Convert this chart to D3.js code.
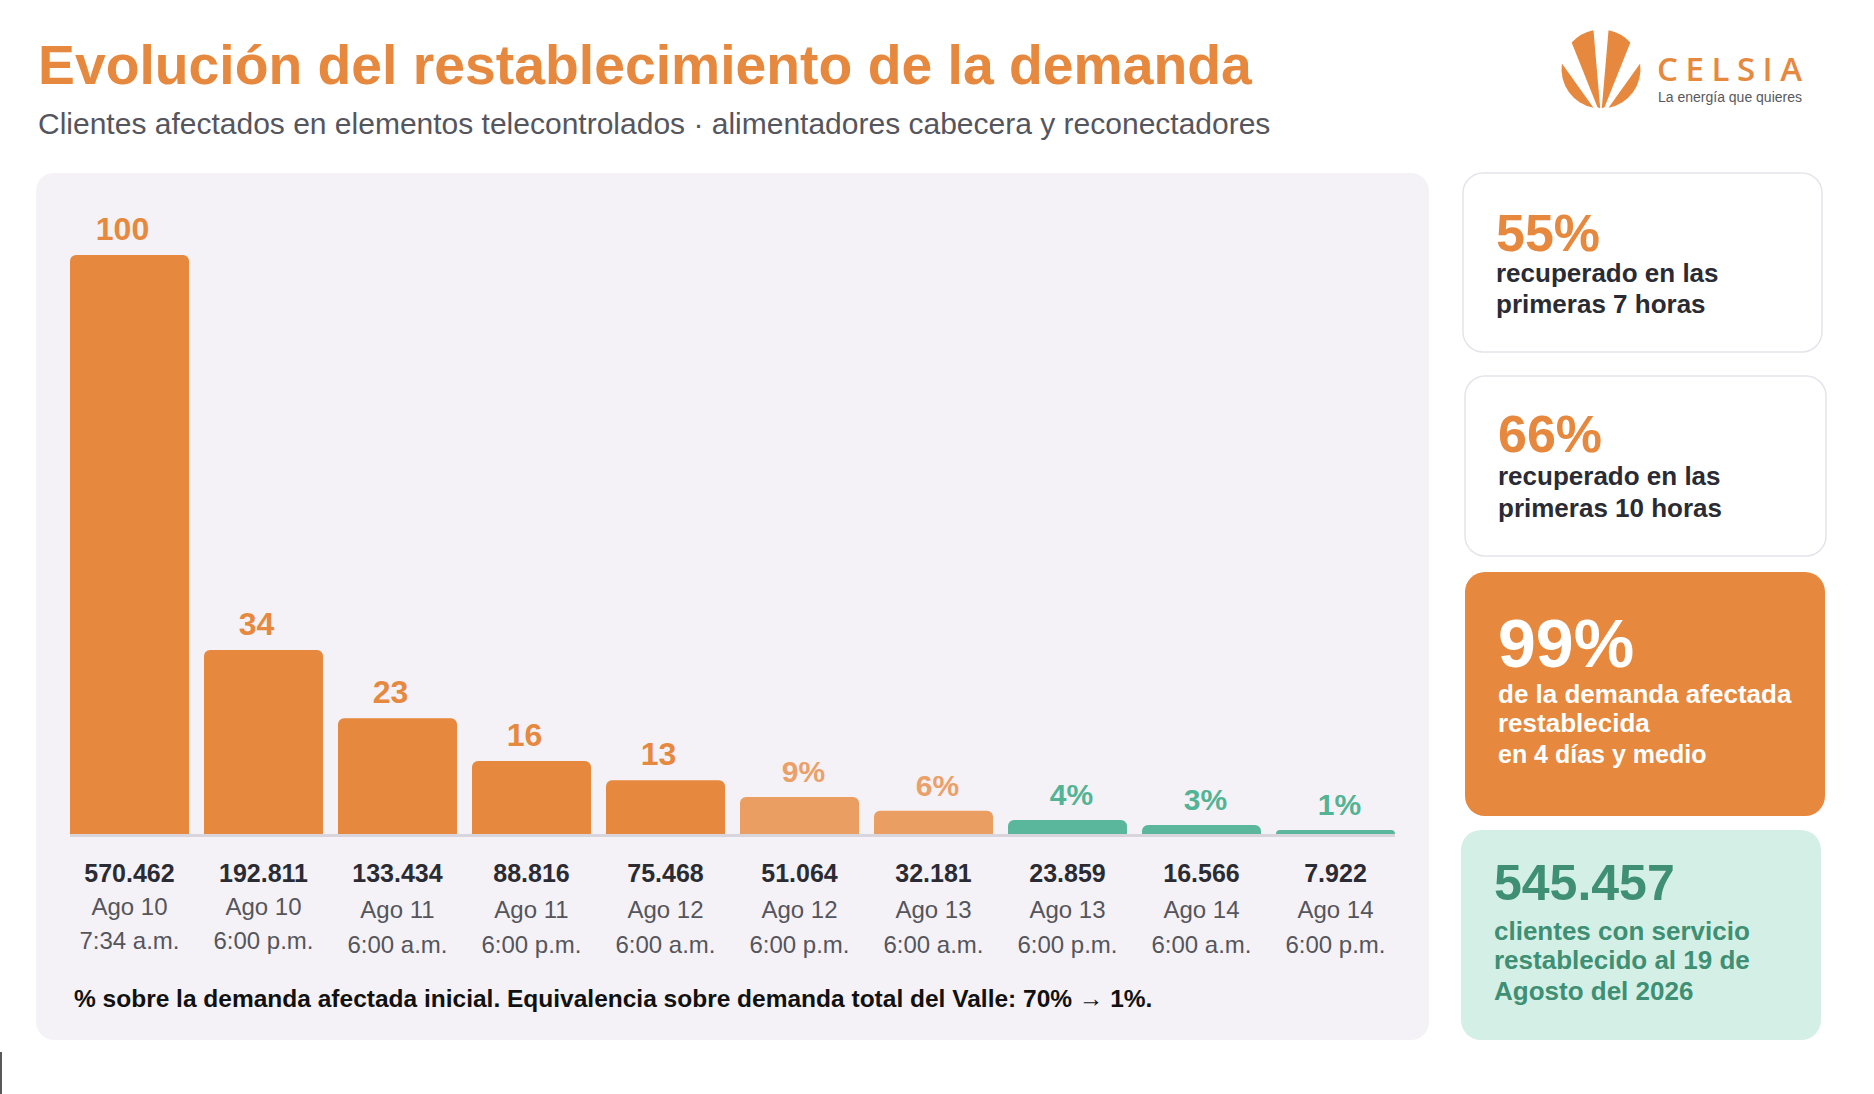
<!DOCTYPE html>
<html lang="es">
<head>
<meta charset="utf-8">
<title>Evolución del restablecimiento de la demanda</title>
<script src="https://cdn.jsdelivr.net/npm/d3@7"></script>
<style>
  html, body { margin: 0; padding: 0; background: #fff; }
  svg { display: block; font-family: "Liberation Sans", Arial, Helvetica, sans-serif; }
</style>
</head>
<body>
<svg id="chart" width="1874" height="1094"></svg>
<script>
// clientes afectados por corte horario
var clients = [570462, 192811, 133434, 88816, 75468, 51064, 32181, 23859, 16566, 7922];
var dayLabels = ["Ago 10", "Ago 10", "Ago 11", "Ago 11", "Ago 12", "Ago 12", "Ago 13", "Ago 13", "Ago 14", "Ago 14"];
var hourLabels = ["7:34 a.m.", "6:00 p.m.", "6:00 a.m.", "6:00 p.m.", "6:00 a.m.", "6:00 p.m.", "6:00 a.m.", "6:00 p.m.", "6:00 a.m.", "6:00 p.m."];
// % sobre la demanda afectada inicial (etiqueta sobre cada barra)
var pctAffected = [100, 34, 23, 16, 13, 9, 6, 4, 3, 1];
// altura de cada barra, en % de la primera
var barLevel = [100, 31.8, 20.0, 12.6, 9.3, 6.4, 4.0, 2.4, 1.55, 0.7];

var cardValues = ["55%", "66%", "99%", "545.457"];
var cardTexts = [
    ["recuperado en las", "primeras 7 horas"],
    ["recuperado en las", "primeras 10 horas"],
    ["de la demanda afectada", "restablecida", "en 4 días y medio"],
    ["clientes con servicio", "restablecido al 19 de", "Agosto del 2026"]
];

var ORANGE = "#e6883e", ORANGE_SOFT = "#eb9e62", TEAL = "#5bb79c";
var INK = "#2b2b33";

var fmt = d3.formatLocale({ decimal: ",", thousands: ".", grouping: [3], currency: ["$", ""] }).format(",d");

var svg = d3.select("#chart");

// encabezado
svg.append("text")
    .attr("x", 38).attr("y", 84)
    .attr("font-size", 55.3).attr("font-weight", "bold")
    .attr("fill", ORANGE)
    .text("Evolución del restablecimiento de la demanda");

svg.append("text")
    .attr("x", 38).attr("y", 134)
    .attr("font-size", 30)
    .attr("fill", "#55555e")
    .text("Clientes afectados en elementos telecontrolados · alimentadores cabecera y reconectadores");

// logo
var logo = svg.append("g").attr("transform", "translate(1601,69)");
var R = 39.5;
function pt(deg) {
    var a = deg * Math.PI / 180;
    return [R * Math.cos(a), R * Math.sin(a)];
}
function blade(a0, a1, b0, b1) {
    var p = pt(a0), q = pt(a1);
    return "M" + b0 + "L" + p + "A" + R + "," + R + " 0 0 1 " + q + "L" + b1 + "Z";
}
function segment(a0, a1) {
    var p = pt(a0), q = pt(a1);
    var sweep = a1 > a0 ? 1 : 0;
    return "M" + p + "A" + R + "," + R + " 0 0 " + sweep + " " + q + "Z";
}
logo.selectAll("path")
    .data([
        blade(222, 259, [-3.5, 38.2], [-0.8, 39.3]),
        blade(281, 318, [0.8, 39.3], [3.5, 38.2]),
        segment(188, 101),
        segment(-8, 79)
    ])
    .join("path")
    .attr("d", d => d)
    .attr("fill", ORANGE);

svg.append("text")
    .attr("x", 1657).attr("y", 81)
    .attr("font-family", "'Open Sans', sans-serif")
    .attr("font-size", 33).attr("font-weight", 600)
    .attr("fill", ORANGE)
    .attr("textLength", 145).attr("lengthAdjust", "spacing")
    .text("CELSIA");

svg.append("text")
    .attr("x", 1658).attr("y", 102)
    .attr("font-size", 14)
    .attr("fill", "#58585e")
    .text("La energía que quieres");

// panel del gráfico
svg.append("rect")
    .attr("x", 36).attr("y", 173)
    .attr("width", 1393).attr("height", 867)
    .attr("rx", 18)
    .attr("fill", "#f4f2f6");

var x = d3.scaleBand()
    .domain(d3.range(clients.length))
    .range([70, 1395])
    .paddingInner(0.112)
    .paddingOuter(0);

var y = d3.scaleLinear()
    .domain([0, 100])
    .range([834, 255]);

var fillFor = d3.scaleThreshold().domain([5, 10]).range([TEAL, ORANGE_SOFT, ORANGE]);
var labelFor = d3.scaleThreshold().domain([5, 10]).range(["#53b395", "#eba06a", ORANGE]);

function topRounded(x0, y0, w, h, r) {
    r = Math.min(r, h, w / 2);
    return "M" + x0 + "," + (y0 + h) +
        "V" + (y0 + r) +
        "A" + r + "," + r + " 0 0 1 " + (x0 + r) + "," + y0 +
        "H" + (x0 + w - r) +
        "A" + r + "," + r + " 0 0 1 " + (x0 + w) + "," + (y0 + r) +
        "V" + (y0 + h) + "Z";
}

var cols = svg.append("g").selectAll("g")
    .data(clients.map((c, i) => i))
    .join("g");

cols.append("path")
    .attr("d", i => topRounded(x(i), y(barLevel[i]), x.bandwidth(), y(0) - y(barLevel[i]), 6))
    .attr("fill", i => fillFor(pctAffected[i]));

svg.append("line")
    .attr("x1", x.range()[0]).attr("x2", x.range()[1])
    .attr("y1", y(0) + 1.5).attr("y2", y(0) + 1.5)
    .attr("stroke", "#d8d6dc").attr("stroke-width", 3);

cols.append("text")
    .attr("x", i => x(i) + x.bandwidth() / 2)
    .attr("dx", i => pctAffected[i] < 10 ? 4 : -7)
    .attr("y", i => y(barLevel[i]) - 15)
    .attr("text-anchor", "middle")
    .attr("font-weight", "bold")
    .attr("font-size", i => pctAffected[i] < 10 ? 30 : 32)
    .attr("fill", i => labelFor(pctAffected[i]))
    .text(i => pctAffected[i] < 10 ? pctAffected[i] + "%" : pctAffected[i]);

var under = cols.append("text")
    .attr("text-anchor", "middle")
    .attr("x", i => x(i) + x.bandwidth() / 2);

under.append("tspan")
    .attr("y", 882)
    .attr("font-size", 25).attr("font-weight", "bold")
    .attr("fill", INK)
    .text(i => fmt(clients[i]));

// las dos primeras columnas (Ago 10) van algo más arriba en el original
under.append("tspan")
    .attr("x", i => x(i) + x.bandwidth() / 2)
    .attr("y", i => dayLabels[i] == dayLabels[0] ? 915 : 918)
    .attr("font-size", 24)
    .attr("fill", "#55555c")
    .text(i => dayLabels[i]);

under.append("tspan")
    .attr("x", i => x(i) + x.bandwidth() / 2)
    .attr("y", i => dayLabels[i] == dayLabels[0] ? 949 : 953)
    .attr("font-size", 24)
    .attr("fill", "#55555c")
    .text(i => hourLabels[i]);

svg.append("text")
    .attr("x", 74).attr("y", 1007)
    .attr("font-size", 24.5).attr("font-weight", "bold")
    .attr("fill", "#111")
    .text("% sobre la demanda afectada inicial. Equivalencia sobre demanda total del Valle: 70% \u2192 1%.");

// tarjetas de resumen
function drawCard(o) {
    var g = svg.append("g").attr("transform", "translate(" + o.x + "," + o.y + ")");
    g.append("rect")
        .attr("width", o.w).attr("height", o.h)
        .attr("rx", 20)
        .attr("fill", o.fill)
        .attr("stroke", o.stroke || "none")
        .attr("stroke-width", 1.5);
    g.append("text")
        .attr("x", 33).attr("y", o.big)
        .attr("font-size", o.bigSize).attr("font-weight", "bold")
        .attr("fill", o.bigColor)
        .text(cardValues[o.i]);
    g.append("g").selectAll("text")
        .data(cardTexts[o.i])
        .join("text")
        .attr("x", 33)
        .attr("y", (d, k) => o.lines[k])
        .attr("font-size", (d, k) => o.lastSize && k == 2 ? o.lastSize : 26)
        .attr("font-weight", "bold")
        .attr("fill", o.color)
        .text(d => d);
}

drawCard({ i: 0, x: 1463, y: 173, w: 359, h: 179, fill: "#fff", stroke: "#e6e4ea",
    big: 78, bigSize: 52, bigColor: ORANGE, lines: [109, 140], color: INK });
drawCard({ i: 1, x: 1465, y: 376, w: 361, h: 180, fill: "#fff", stroke: "#e6e4ea",
    big: 76, bigSize: 52, bigColor: ORANGE, lines: [109, 141], color: INK });
drawCard({ i: 2, x: 1465, y: 572, w: 360, h: 244, fill: ORANGE,
    big: 95, bigSize: 68, bigColor: "#fff", lines: [131, 160, 191], lastSize: 25, color: "#fff" });
drawCard({ i: 3, x: 1461, y: 830, w: 360, h: 210, fill: "#d4efe5",
    big: 70, bigSize: 50, bigColor: "#3e8f73", lines: [110, 139, 170], color: "#3e8f73" });

// marca del borde inferior izquierdo
svg.append("line")
    .attr("x1", 1).attr("x2", 1)
    .attr("y1", 1052).attr("y2", 1094)
    .attr("stroke", "#222").attr("stroke-width", 1.5);
</script>
</body>
</html>
